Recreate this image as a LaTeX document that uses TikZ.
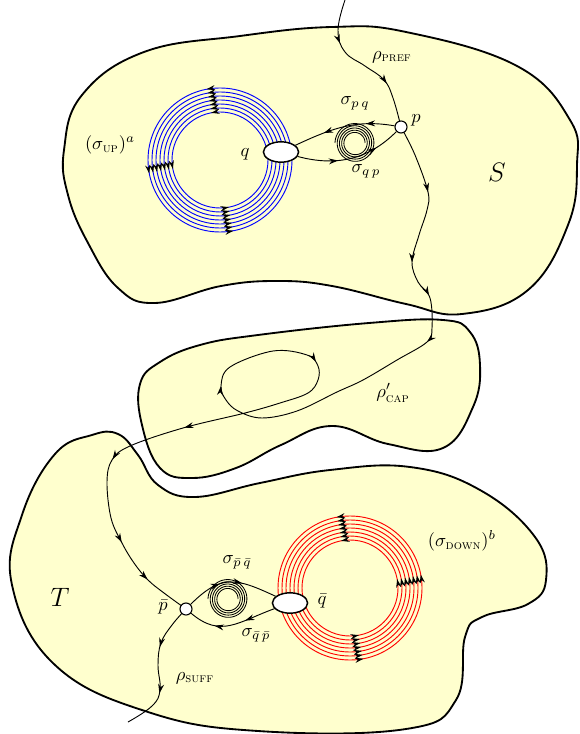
\documentclass[tikz,border=0pt]{standalone}
\usepackage{amsmath}
\usetikzlibrary{arrows.meta,decorations.markings,shapes.geometric}

\definecolor{amarillo}{RGB}{255,255,206}
\pgfdeclarelayer{regiones}
\pgfdeclarelayer{caminos}
\pgfsetlayers{regiones,caminos,main}

\tikzset{
  region/.style={draw=black, line width=1pt, fill=amarillo},
  camino/.style={line width=0.5pt},
  flecha/.style={postaction={decorate, decoration={markings,
      mark=at position #1 with {\arrow{Stealth[length=5pt,width=3.2pt]}}}}},
  flechita/.style={postaction={decorate, decoration={markings,
      mark=at position #1 with {\arrow{Stealth[length=4.6pt,width=2.8pt,color=black]}}}}},
  vertice/.style={circle, draw, fill=white, line width=0.6pt, inner sep=0pt, minimum size=6.5pt},
  estado/.style={ellipse, draw, fill=white, line width=0.8pt, inner sep=0pt,
      minimum width=19pt, minimum height=11pt}
}

\begin{document}
\begin{tikzpicture}[x=0.019cm, y=0.019cm]
  \useasboundingbox (0,0) rectangle (579,-734);
  % regiones
  \begin{pgfonlayer}{regiones}
  \draw[region] plot[smooth cycle, tension=0.7] coordinates {(64,-150) (82,-95) (144,-52)
    (240,-36) (332,-27) (406,-32) (517,-66) (570,-120) (577,-165) (568,-225) (528,-290)
    (462,-314) (406,-304) (332,-286) (277,-281) (221,-286) (155,-303) (118,-288) (88,-243) (68,-195)};
  \draw[region] plot[smooth cycle, tension=0.7] coordinates {(55,-454) (92,-435) (118,-434)
    (138,-455) (158,-485) (195,-497) (260,-483) (330,-470) (410,-467) (480,-490) (535,-537)
    (546,-580) (528,-604) (482,-617) (465,-637) (456,-700) (406,-729) (258,-731) (148,-712)
    (55,-665) (12,-585) (22,-515)};
  \draw[region] plot[smooth cycle, tension=0.7] coordinates {(140,-384) (160,-362) (200,-345)
    (258,-335) (369,-323) (443,-320) (470,-332) (480,-365) (473,-407) (443,-448) (388,-444)
    (332,-426) (281,-445) (236,-468) (192,-478) (160,-468) (142,-425)};
  \end{pgfonlayer}

  % estados
  \node[vertice] (p) at (401,-127) {};
  \node[estado] (q) at (281,-152) {};
  \node[vertice] (pb) at (186,-609) {};
  \node[estado] (qb) at (290,-603) {};
  \coordinate (inicio) at (345,0);
  \coordinate (fin) at (128,-722);

  \begin{pgfonlayer}{caminos}
  % anillos azules
  \foreach \r in {48,52,...,72}
    \draw[blue, line width=0.5pt, flechita/.list={0.28,0.53,0.78}] (220,-160) circle[radius=\r];
  % anillos rojos
  \foreach \r in {48,52,...,72}
    \draw[red, line width=0.5pt, flechita/.list={0.28,0.53,0.78}]
      (350,-588) ++(180:\r) arc[start angle=180, end angle=540, radius=\r];
  % espirales
  \draw[line width=0.45pt] plot[domain=0:1620, samples=240, smooth]
    ({355+(10+\x/162)*cos(\x)}, {-143+(10+\x/162)*sin(\x)});
  \draw[line width=0.45pt] plot[domain=0:1620, samples=240, smooth]
    ({228+(10+\x/162)*cos(\x)}, {-599+(10+\x/162)*sin(\x)});
  % rho
  \draw[camino, flecha/.list={0.29,0.7}] plot[smooth, tension=0.7] coordinates
    {(inicio) (338,-30) (345,-52) (365,-66) (384,-80) (393,-98) (p)};
  \draw[camino, flecha/.list={0.07,0.142,0.18,0.228,0.466,0.579,0.742,0.821,0.907,0.952}]
    plot[smooth, tension=0.6] coordinates {(p) (415,-155) (428,-192) (427,-210) (419,-235)
    (412,-262) (418,-282) (430,-298) (432,-328) (427,-342) (397,-360) (363,-380) (337,-392)
    (297,-411) (262,-418) (238,-411) (226,-400) (221,-386) (230,-367) (273,-351) (307,-355)
    (318,-366) (318,-380) (308,-393) (280,-403) (245,-413) (183,-428) (130,-446) (112,-460)
    (107,-482) (111,-518) (122,-543) (134,-563) (148,-580) (164,-593) (pb)};
  \draw[camino, flecha/.list={0.34,0.68}] plot[smooth, tension=0.7] coordinates
    {(pb) (172,-625) (161,-643) (158,-665) (160,-690) (152,-706) (fin)};
  % sigma
  \draw[camino, flecha/.list={0.28,0.7}] (p) to[out=170, in=25] (q);
  \draw[camino, flecha/.list={0.38,0.76}] (q) to[out=-15, in=-135] (p);
  \draw[camino, flecha/.list={0.38,0.62}] (pb) to[out=45, in=155, looseness=1.3] (qb);
  \draw[camino, flecha/.list={0.35,0.7}] (qb) to[out=200, in=-40, looseness=1.2] (pb);
  \end{pgfonlayer}

  % etiquetas
  \node (lpref) at (392,-57) {$\rho_{\text{\textsc{pref}}}$};
  \node (lp) at (416,-120) {$p$};
  \node (lq) at (245,-154) {$q$};
  \node (lpq) at (355,-103) {$\sigma_{p\,q}$};
  \node (lqp) at (366,-171) {$\sigma_{q\,p}$};
  \node (lup) at (110,-145) {$(\sigma_{\text{\textsc{up}}})^a$};
  \node[font=\Large] (lS) at (497,-172) {$S$};
  \node (lcap) at (393,-393) {$\rho'_{\text{\textsc{cap}}}$};
  \node (ldown) at (462,-541) {$(\sigma_{\text{\textsc{down}}})^b$};
  \node[font=\Large] (lT) at (60,-597) {$T$};
  \node (lpb) at (163,-607) {$\bar p$};
  \node (lqb) at (322,-601) {$\bar q$};
  \node (lpbqb) at (237,-562) {$\sigma_{\bar p\,\bar q}$};
  \node (lqbpb) at (256,-635) {$\sigma_{\bar q\,\bar p}$};
  \node (lsuff) at (195,-678) {$\rho_{\text{\textsc{suff}}}$};
\end{tikzpicture}
\end{document}
